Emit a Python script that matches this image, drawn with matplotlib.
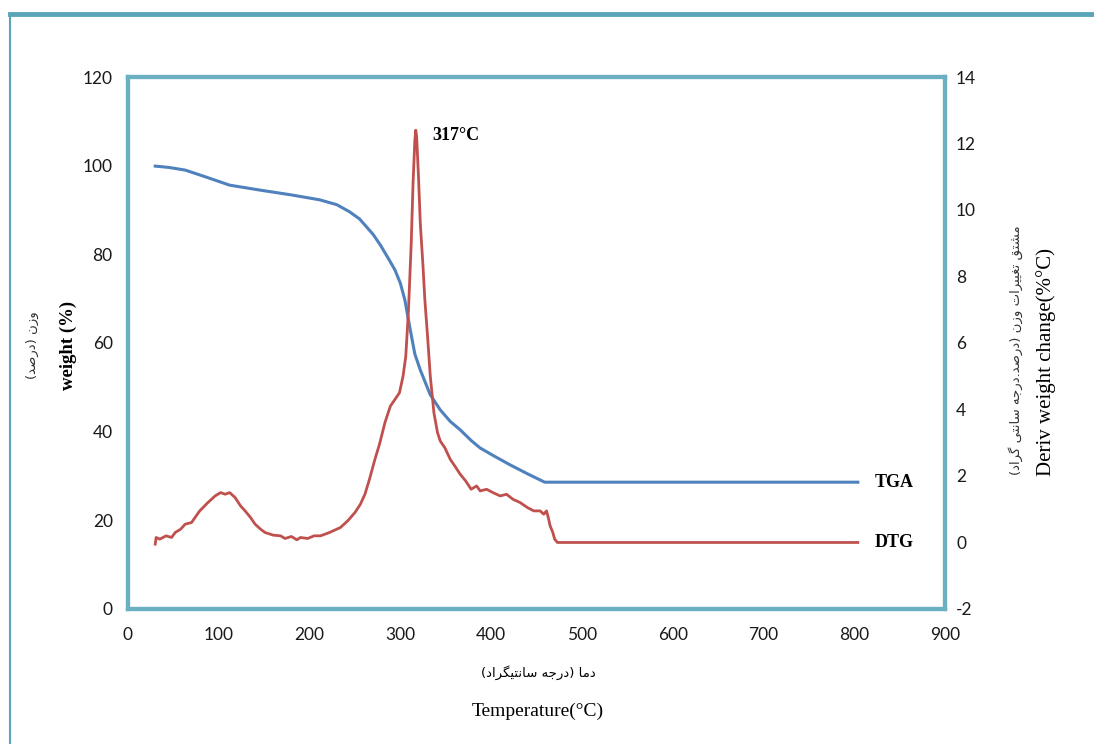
import matplotlib
matplotlib.use("Agg")
import matplotlib.pyplot as plt
from matplotlib.lines import Line2D

plt.rcParams['axes.unicode_minus'] = False

# TGA curve (weight %, left axis)
tga_temp = [30, 45, 63, 85, 112, 145, 180, 211, 230, 244, 255, 261, 270, 278, 287, 294,
            300, 305, 311, 316, 322, 333, 344, 355, 366, 378, 388, 405, 421, 440, 459, 804]
tga_weight = [99.9, 99.6, 99.0, 97.5, 95.6, 94.5, 93.4, 92.3, 91.2, 89.6, 88.0, 86.6, 84.5, 82.1,
              79.0, 76.5, 73.5, 69.7, 62.9, 57.5, 53.9, 48.3, 44.9, 42.3, 40.4, 38.0, 36.3,
              34.3, 32.5, 30.5, 28.6, 28.6]

# DTG curve (deriv weight change, right axis)
dtg_temp = [30, 31, 35, 42, 48, 52, 58, 63, 70, 79, 88, 96, 102, 107, 112, 118, 124, 129, 135,
            140, 146, 151, 160, 168, 173, 180, 186, 190, 198, 205, 212, 222, 234, 242, 250,
            256, 261, 266, 272, 277, 283, 289, 294, 299, 303, 306, 309, 312, 314, 316, 317,
            318, 320, 322, 325, 327, 330, 333, 337, 341, 344, 349, 355, 360, 366, 372, 378,
            384, 388, 395, 402, 410, 417, 424, 432, 440, 447, 454, 458, 461, 463, 465, 468,
            470, 473, 804]
dtg_value = [-0.05, 0.15, 0.1, 0.2, 0.15, 0.3, 0.4, 0.55, 0.6, 0.95, 1.2, 1.4, 1.5, 1.45, 1.5,
             1.35, 1.1, 0.95, 0.75, 0.55, 0.4, 0.3, 0.22, 0.2, 0.12, 0.18, 0.08, 0.15, 0.12,
             0.2, 0.2, 0.3, 0.45, 0.65, 0.9, 1.15, 1.45, 1.9, 2.5, 2.95, 3.6, 4.1, 4.3, 4.5,
             5.0, 5.6, 7.0, 9.0, 10.8, 12.1, 12.4, 12.2, 11.0, 9.6, 8.3, 7.3, 6.2, 5.0, 3.9,
             3.3, 3.05, 2.85, 2.5, 2.3, 2.05, 1.85, 1.6, 1.7, 1.55, 1.6, 1.5, 1.4, 1.45, 1.3,
             1.2, 1.05, 0.95, 0.95, 0.85, 0.95, 0.75, 0.5, 0.3, 0.1, 0.0, 0.0]

x_ticks = [0, 100, 200, 300, 400, 500, 600, 700, 800, 900]
left_ticks = [0, 20, 40, 60, 80, 100, 120]
right_ticks = [-2, 0, 2, 4, 6, 8, 10, 12, 14]

# minimal Persian shaping: (isolated, final, initial, medial); None = right-joining only
FORMS = {
    '\u0627': (0xFE8D, 0xFE8E, None, None),
    '\u062A': (0xFE95, 0xFE96, 0xFE97, 0xFE98),
    '\u062C': (0xFE9D, 0xFE9E, 0xFE9F, 0xFEA0),
    '\u062F': (0xFEA9, 0xFEAA, None, None),
    '\u0631': (0xFEAD, 0xFEAE, None, None),
    '\u0632': (0xFEAF, 0xFEB0, None, None),
    '\u0633': (0xFEB1, 0xFEB2, 0xFEB3, 0xFEB4),
    '\u0634': (0xFEB5, 0xFEB6, 0xFEB7, 0xFEB8),
    '\u0635': (0xFEB9, 0xFEBA, 0xFEBB, 0xFEBC),
    '\u063A': (0xFECD, 0xFECE, 0xFECF, 0xFED0),
    '\u0642': (0xFED5, 0xFED6, 0xFED7, 0xFED8),
    '\u0645': (0xFEE1, 0xFEE2, 0xFEE3, 0xFEE4),
    '\u0646': (0xFEE5, 0xFEE6, 0xFEE7, 0xFEE8),
    '\u0647': (0xFEE9, 0xFEEA, 0xFEEB, 0xFEEC),
    '\u0648': (0xFEED, 0xFEEE, None, None),
    '\u06CC': (0xFBFC, 0xFBFD, 0xFBFE, 0xFBFF),
    '\u06AF': (0xFB92, 0xFB93, 0xFB94, 0xFB95),
}
MIRROR = {'(': ')', ')': '('}


def shape(text):
    out = []
    for i, ch in enumerate(text):
        if ch not in FORMS:
            out.append(MIRROR.get(ch, ch))
            continue
        prev = text[i - 1] if i > 0 else ''
        nxt = text[i + 1] if i + 1 < len(text) else ''
        join_prev = prev in FORMS and FORMS[prev][2] is not None
        join_next = nxt in FORMS and FORMS[ch][2] is not None
        iso, fin, ini, med = FORMS[ch]
        if join_prev and join_next:
            code = med
        elif join_prev:
            code = fin
        elif join_next:
            code = ini
        else:
            code = iso
        out.append(chr(code))
    return ''.join(reversed(out))


teal = '#6aafc2'
blue = '#4f81bd'
red = '#c0504d'

fig = plt.figure(figsize=(10.94, 7.44), dpi=100)
ax = fig.add_axes([0.117, 0.1815, 0.7468, 0.715])
ax2 = ax.twinx()

ax.plot(tga_temp, tga_weight, color=blue, lw=2.2)
ax2.plot(dtg_temp, dtg_value, color=red, lw=2.0)

ax.set_xlim(0, 900)
ax.set_ylim(0, 120)
ax2.set_ylim(-2, 14)
ax.set_xticks(x_ticks)
ax.set_yticks(left_ticks)
ax2.set_yticks(right_ticks)

for a in (ax, ax2):
    for s in a.spines.values():
        s.set_color(teal)
        s.set_linewidth(3)
    a.tick_params(length=0, labelsize=12.5, labelcolor='#1a1a1a')
    for lab in a.get_xticklabels() + a.get_yticklabels():
        lab.set_family('Lato')
ax.tick_params(axis='x', pad=13)
ax.tick_params(axis='y', pad=11)
ax2.tick_params(axis='y', pad=8)

serif = 'Liberation Serif'
ax2.text(335, 12.25, '317°C', family=serif, fontweight='bold', fontsize=13, va='center')
ax.text(822, tga_weight[-1], 'TGA', family=serif, fontweight='bold', fontsize=13, va='center')
ax2.text(822, dtg_value[-1], 'DTG', family=serif, fontweight='bold', fontsize=13, va='center')

# axis titles
fig.text(68 / 1094, 1 - 345 / 744, 'weight (%)', family=serif, fontweight='bold',
         fontsize=13.5, rotation=90, ha='center', va='center')
fig.text(32 / 1094, 1 - 345 / 744, shape('وزن (درصد)'), family='DejaVu Sans',
         fontsize=9.5, rotation=90, ha='center', va='center', color='#333333')
fig.text(1046 / 1094, 1 - 362 / 744, 'Deriv weight change(%°C)', family=serif,
         fontsize=15, rotation=90, ha='center', va='center')
fig.text(1016 / 1094, 1 - 350 / 744, shape('مشتق تغییرات وزن (درصد.درجه سانتی گراد)'),
         family='DejaVu Sans', fontsize=9.5, rotation=90, ha='center', va='center',
         color='#333333')
fig.text(538 / 1094, 1 - 673 / 744, shape('دما (درجه سانتیگراد)'), family='DejaVu Sans',
         fontsize=9.5, ha='center', va='center')
fig.text(538 / 1094, 1 - 711 / 744, 'Temperature(°C)', family=serif, fontsize=14,
         ha='center', va='center')

# outer frame lines
fig.add_artist(Line2D([10 / 1094, 1], [1 - 14 / 744, 1 - 14 / 744], color='#5aa5b8', lw=3.5,
                      transform=fig.transFigure))
fig.add_artist(Line2D([10 / 1094, 10 / 1094], [1 - 14 / 744, 0], color='#5aa5b8', lw=1.5,
                      transform=fig.transFigure))

fig.savefig('out.png', dpi=100)
